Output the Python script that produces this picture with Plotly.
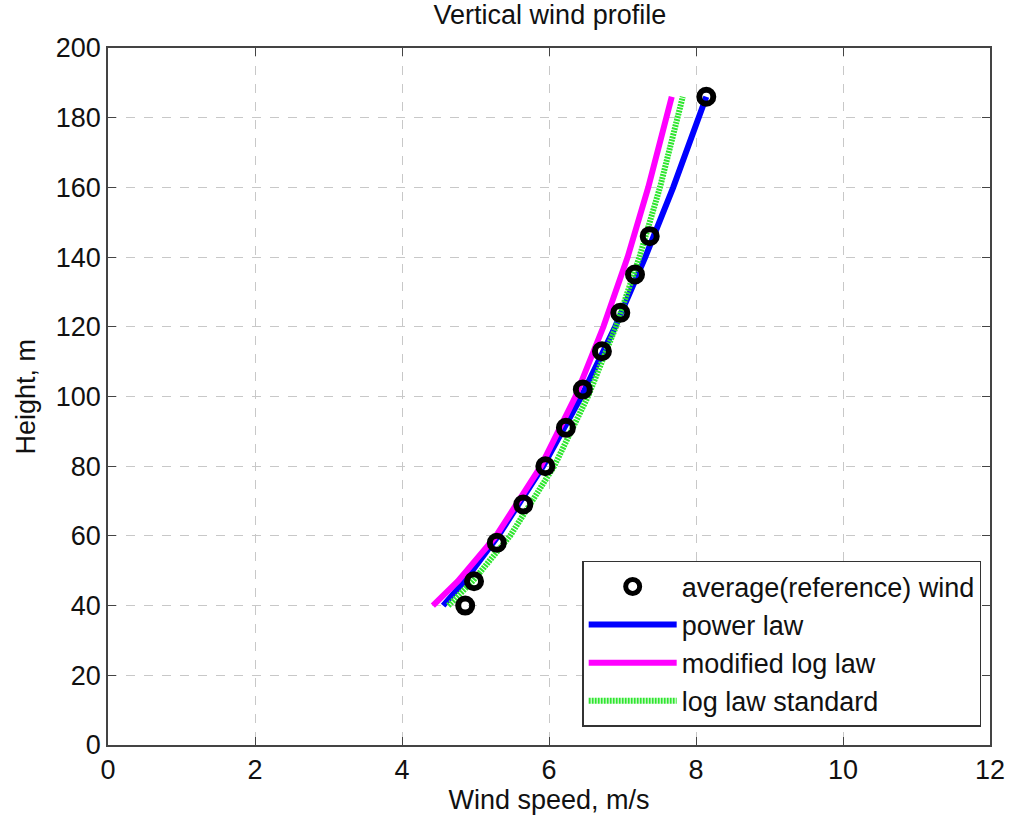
import plotly.graph_objects as go

# measured reference wind
ref_height = [40, 47, 58, 69, 80, 91, 102, 113, 124, 135, 146, 186]
ref_speed = [4.86, 4.98, 5.29, 5.65, 5.95, 6.23, 6.46, 6.72, 6.97, 7.17, 7.37, 8.14]

# fitted profiles
fit_height = [40, 47, 60, 80, 100, 120, 140, 160, 186]
power_speed = [4.56, 4.85, 5.31, 5.92, 6.44, 6.90, 7.31, 7.69, 8.14]
modlog_speed = [4.42, 4.76, 5.28, 5.89, 6.36, 6.74, 7.07, 7.35, 7.67]
loglaw_speed = [4.63, 4.96, 5.47, 6.07, 6.53, 6.91, 7.23, 7.51, 7.82]

x_ticks = [0, 2, 4, 6, 8, 10, 12]
y_ticks = [0, 20, 40, 60, 80, 100, 120, 140, 160, 180, 200]

FONT = "Liberation Sans, Arial, sans-serif"
FS = 27

fig = go.Figure()
fig.add_trace(go.Scatter(x=power_speed, y=fit_height, mode="lines", name="power law",
                         legendgroup="b", legendrank=2,
                         line=dict(color="#0000ff", width=6)))
fig.add_trace(go.Scatter(x=modlog_speed, y=fit_height, mode="lines", name="modified log law",
                         legendgroup="c", legendrank=3,
                         line=dict(color="#ff00ff", width=6)))
fig.add_trace(go.Scatter(x=loglaw_speed, y=fit_height, mode="lines", name="log law standard",
                         legendgroup="d", legendrank=4,
                         line=dict(color="#2ee62e", width=6, dash="2px,1px")))
fig.add_trace(go.Scatter(x=ref_speed, y=ref_height, mode="markers",
                         name="average(reference) wind", legendgroup="a", legendrank=1,
                         marker=dict(symbol="circle-open", size=14, color="black",
                                     line=dict(width=6, color="black"))))

axis_common = dict(
    showline=True, linecolor="#444", linewidth=1.5, mirror="ticks",
    ticks="inside", ticklen=8, tickcolor="#444", tickwidth=1.2,
    showgrid=True, gridcolor="#c8c8c8", griddash="dash", gridwidth=1,
    zeroline=False, automargin=False,
    tickfont=dict(family=FONT, size=FS, color="#111"),
)

fig.update_xaxes(range=[0, 12], tickvals=x_ticks, ticktext=[str(v) for v in x_ticks],
                 title=dict(text="Wind speed, m/s", font=dict(family=FONT, size=FS, color="#111"),
                            standoff=2),
                 **axis_common)
fig.update_yaxes(range=[0, 200], tickvals=y_ticks, ticktext=[str(v) for v in y_ticks],
                 **axis_common)

fig.add_annotation(text="Height, m", xref="paper", yref="paper", x=-0.094, y=0.5,
                   xanchor="center", yanchor="middle", textangle=-90, showarrow=False,
                   font=dict(family=FONT, size=FS, color="#111"))

fig.update_layout(
    width=1009, height=816,
    margin=dict(l=108, r=19, t=48, b=71, autoexpand=False),
    paper_bgcolor="white", plot_bgcolor="white",
    title=dict(text="Vertical wind profile", x=0.545, xanchor="center", y=0.982, yanchor="middle",
               font=dict(family=FONT, size=FS, color="#111")),
    showlegend=True,
    legend=dict(x=0.99, xanchor="right", y=0.026, yanchor="bottom",
                bgcolor="white", bordercolor="#333", borderwidth=1.5,
                font=dict(family=FONT, size=FS, color="#111"),
                itemwidth=88,
                tracegroupgap=0, traceorder="grouped"),
)

fig.write_html("out.html")
